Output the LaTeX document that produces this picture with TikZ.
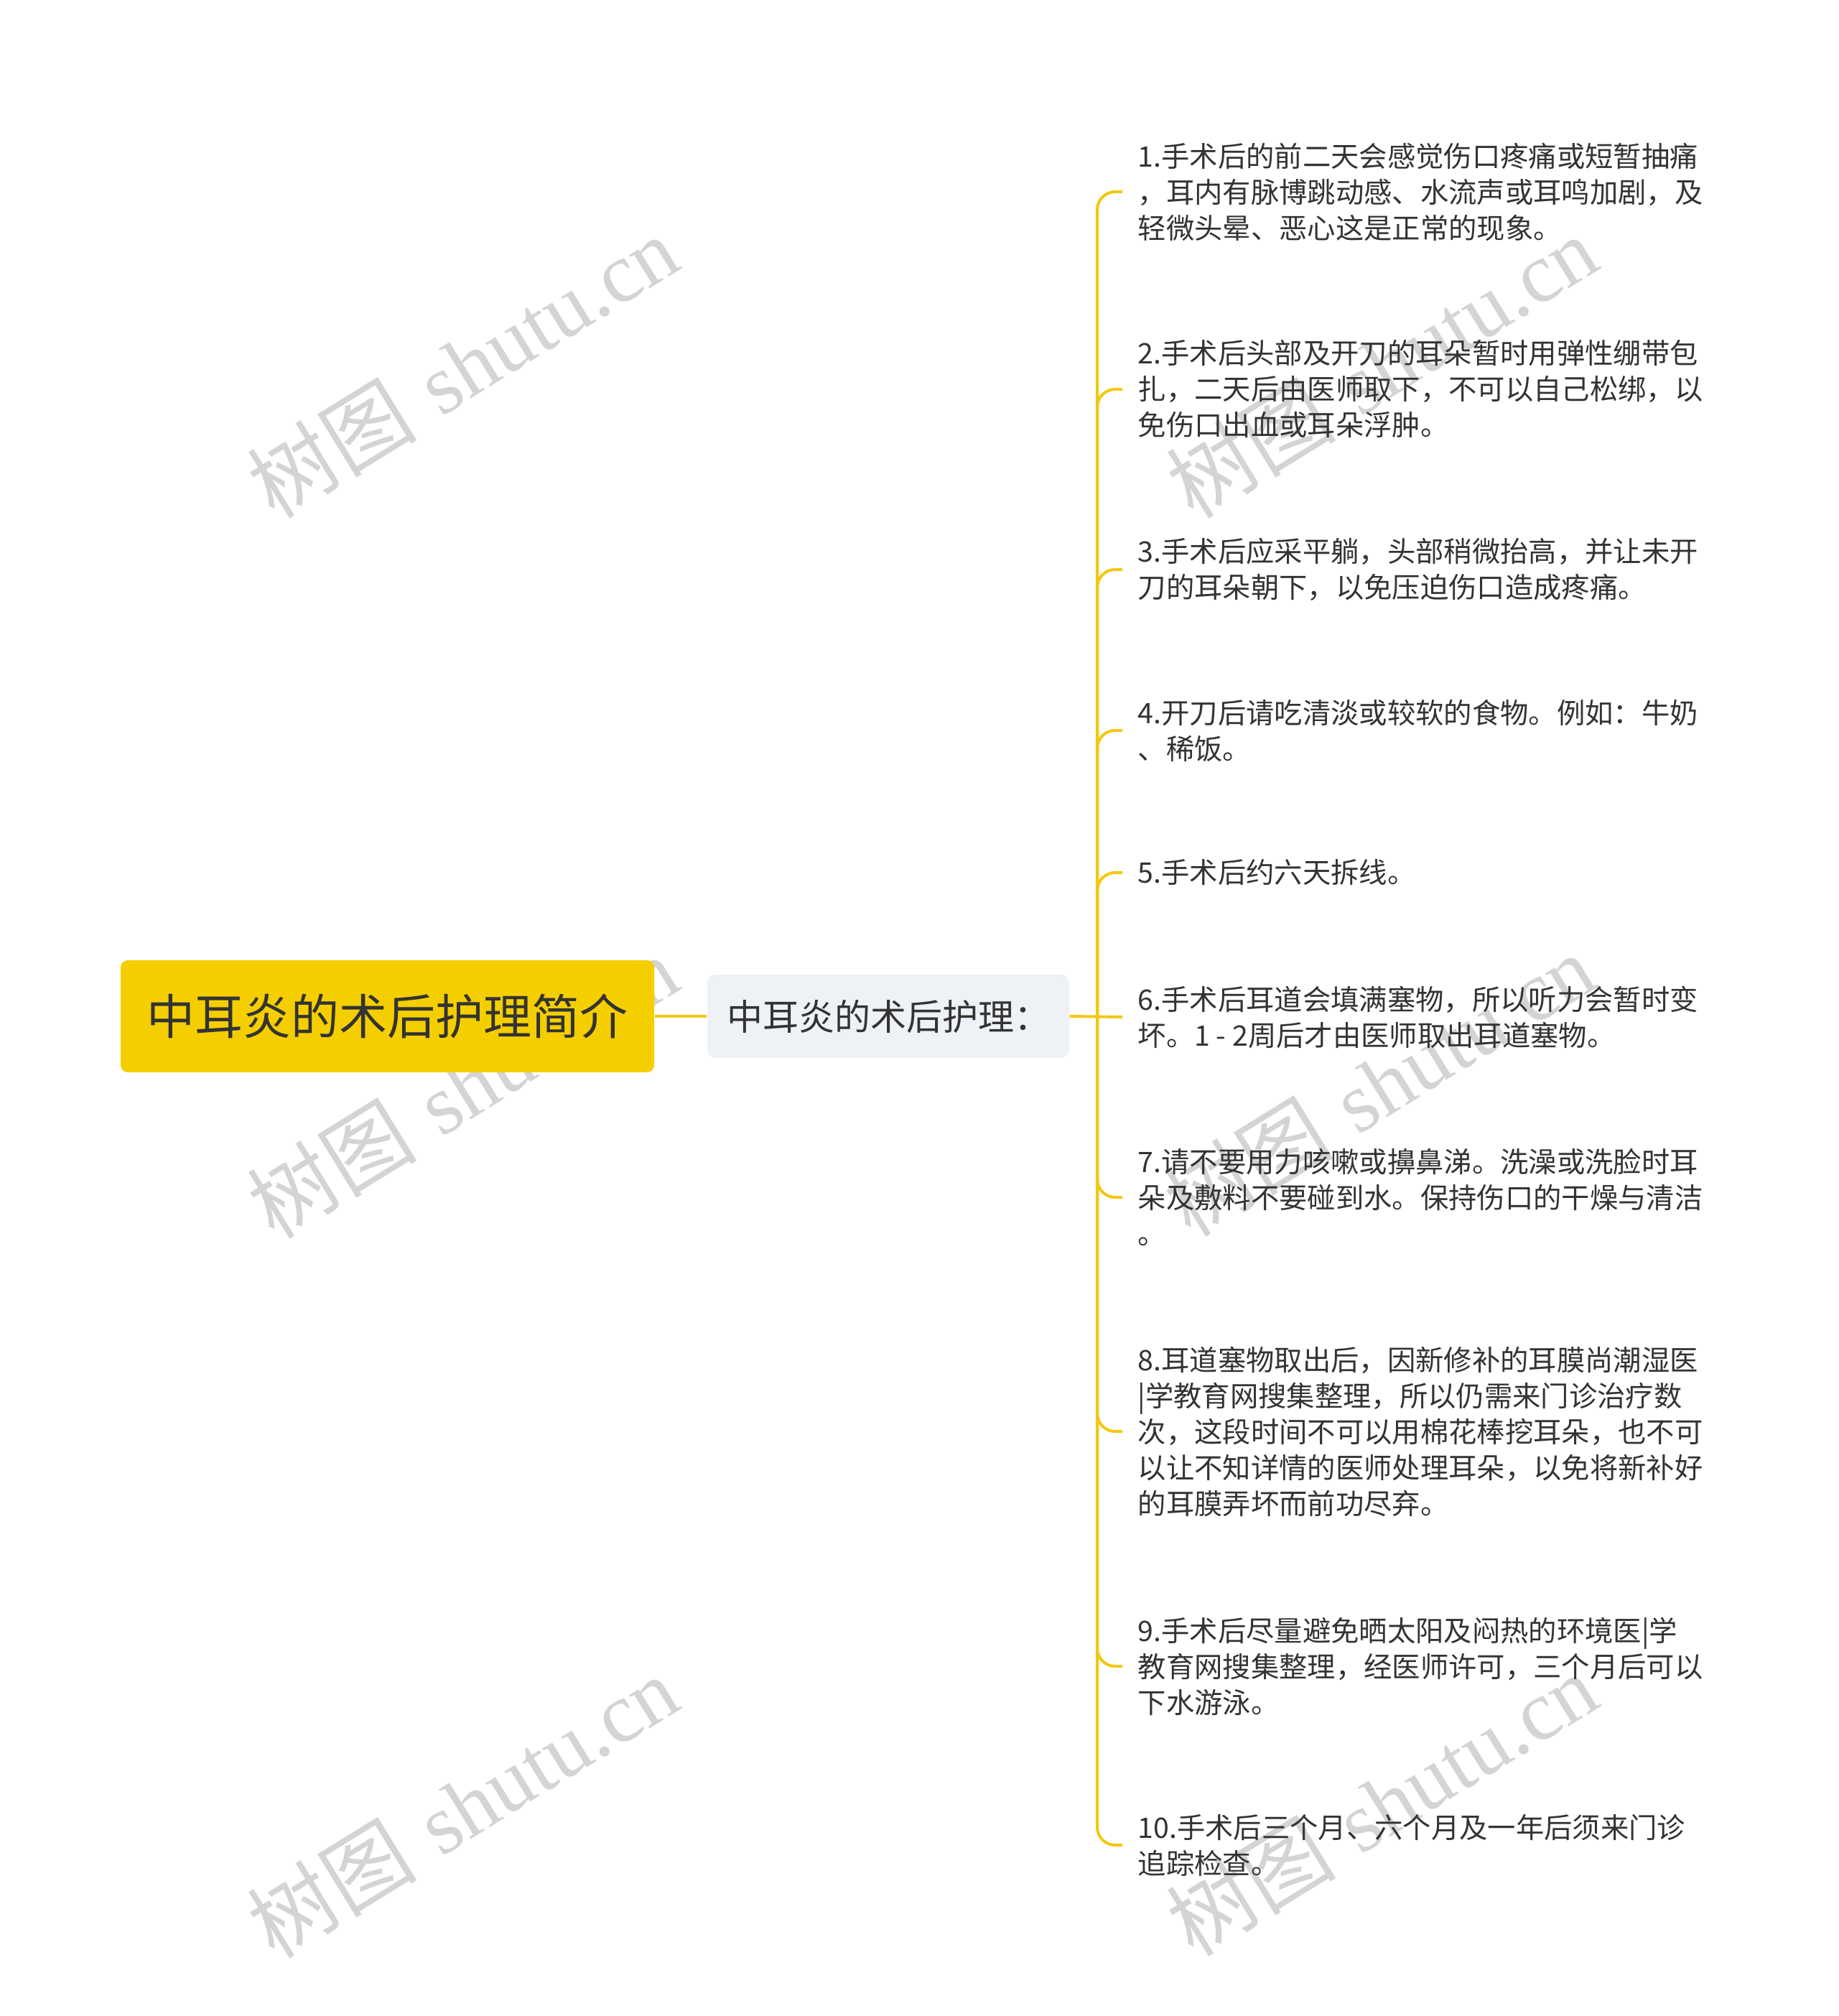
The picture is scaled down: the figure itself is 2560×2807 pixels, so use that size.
\documentclass[tikz,border=0pt]{standalone}
\usepackage{fontspec}
\newfontfamily\cjk{Noto Sans CJK SC}
\newfontfamily\wmlatin{Liberation Serif}
\definecolor{rootfill}{HTML}{F5CE00}
\definecolor{linecol}{HTML}{F2C811}
\definecolor{subfill}{HTML}{EEF1F5}
\definecolor{txt}{HTML}{333333}
\definecolor{wmcol}{HTML}{D4D4D4}
\begin{document}
\begin{tikzpicture}[x=0.3pt,y=-0.3pt,
  rootbox/.style={fill=rootfill,rounded corners=3pt,minimum width=222.9pt,minimum height=46.8pt,inner sep=0pt,text=txt,font=\cjk\fontsize{20.1pt}{24pt}\selectfont},
  subbox/.style={fill=subfill,rounded corners=3.6pt,minimum width=151.2pt,minimum height=34.8pt,inner sep=0pt,text=txt,font=\cjk\fontsize{15pt}{18pt}\selectfont},
  leaf/.style={anchor=west,inner sep=0pt,align=left,text=txt,font=\cjk\fontsize{11.8pt}{15pt}\selectfont},
  conn/.style={draw=linecol,line width=1.2pt,rounded corners=7.5pt},
  wm/.style={text=wmcol,rotate=31.7,inner sep=0pt,font=\fontsize{35.5pt}{38pt}\selectfont}
]
\useasboundingbox (0,0) rectangle (2560,2807);
% watermarks
\foreach \p/\n in {{(644,510)}/w1,{(1924,510)}/w2,{(644,1513)}/w3,{(1920,1510)}/w4,{(644,2515)}/w5,{(1924,2512)}/w6}{
  \node[wm] (\n) at \p {{\cjk 树图} {\wmlatin shutu.cn}};
}
% nodes
\node[rootbox] (root) at (539.5,1415) {中耳炎的术后护理简介};
\node[subbox] (sub) at (1237,1415) {中耳炎的术后护理：};
\coordinate (spine) at (1528,1416);
\node[leaf] (c1) at (1584,267) {1.手术后的前二天会感觉伤口疼痛或短暂抽痛\\，耳内有脉博跳动感、水流声或耳鸣加剧，及\\轻微头晕、恶心这是正常的现象。};
\node[leaf] (c2) at (1584,542) {2.手术后头部及开刀的耳朵暂时用弹性绷带包\\扎，二天后由医师取下，不可以自己松绑，以\\免伤口出血或耳朵浮肿。};
\node[leaf] (c3) at (1584,793) {3.手术后应采平躺，头部稍微抬高，并让未开\\刀的耳朵朝下，以免压迫伤口造成疼痛。};
\node[leaf] (c4) at (1584,1017) {4.开刀后请吃清淡或较软的食物。例如：牛奶\\、稀饭。};
\node[leaf] (c5) at (1584,1215) {5.手术后约六天拆线。};
\node[leaf] (c6) at (1584,1416) {6.手术后耳道会填满塞物，所以听力会暂时变\\坏。1 - 2周后才由医师取出耳道塞物。};
\node[leaf] (c7) at (1584,1667) {7.请不要用力咳嗽或擤鼻涕。洗澡或洗脸时耳\\朵及敷料不要碰到水。保持伤口的干燥与清洁\\。};
\node[leaf] (c8) at (1584,1993) {8.耳道塞物取出后，因新修补的耳膜尚潮湿医\\|学教育网搜集整理，所以仍需来门诊治疗数\\次，这段时间不可以用棉花棒挖耳朵，也不可\\以让不知详情的医师处理耳朵，以免将新补好\\的耳膜弄坏而前功尽弃。};
\node[leaf] (c9) at (1584,2320) {9.手术后尽量避免晒太阳及闷热的环境医|学\\教育网搜集整理，经医师许可，三个月后可以\\下水游泳。};
\node[leaf] (c10) at (1584,2569) {10.手术后三个月、六个月及一年后须来门诊\\追踪检查。};
% connectors
\draw[conn] (root.east) -- (sub.west);
\draw[conn] (sub.east) -- ([xshift=-6.3pt]c6.west);
\foreach \c in {c1,c2,c3,c4,c5,c7,c8,c9,c10}{
  \draw[conn] ([xshift=-6.3pt]\c.west) -- (spine |- \c.west) -- (spine);
}
\end{tikzpicture}
\end{document}
